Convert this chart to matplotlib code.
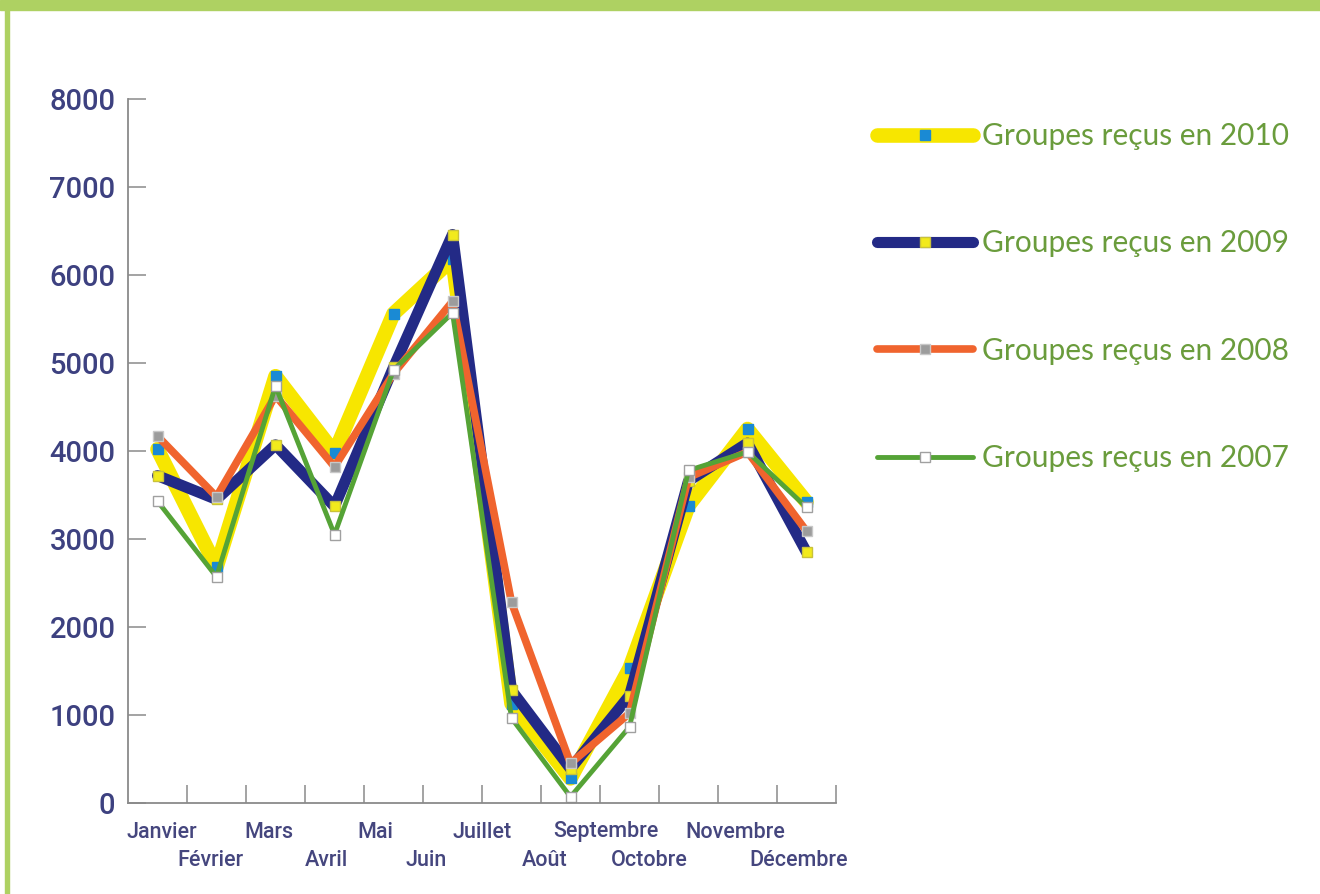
import matplotlib
matplotlib.use("Agg")
import matplotlib.pyplot as plt
from matplotlib.patches import Rectangle

months = ["Janvier", "Février", "Mars", "Avril", "Mai", "Juin", "Juillet",
          "Août", "Septembre", "Octobre", "Novembre", "Décembre"]
v2010 = [4020, 2680, 4850, 3980, 5560, 6180, 1130, 280, 1530, 3380, 4250, 3420]
v2009 = [3720, 3450, 4070, 3370, 4950, 6460, 1280, 390, 1220, 3660, 4090, 2850]
v2008 = [4170, 3480, 4630, 3820, 4880, 5700, 2280, 450, 1020, 3700, 3990, 3090]
v2007 = [3430, 2570, 4740, 3050, 4920, 5570, 965, 70, 865, 3780, 3990, 3360]
labels = ["Groupes reçus en 2010", "Groupes reçus en 2009",
          "Groupes reçus en 2008", "Groupes reçus en 2007"]
yticks = [0, 1000, 2000, 3000, 4000, 5000, 6000, 7000, 8000]

# label horizontal offsets (px) relative to category centre
label_off = [4.5, -6.5, -6.5, -8.5, -18.5, -26.5, -29.5, -25.5, -23.5, -39.5, -12.5, -7.5]

fig = plt.figure(figsize=(13.2, 8.94), dpi=100)
fig.patch.set_facecolor("white")
W, H = 1320, 894
ax = fig.add_axes([128 / W, (H - 803) / H, (836 - 128) / W, (803 - 99) / H])

x = list(range(len(months)))
styles = [
    (v2010, "#f7e600", 10.5, "#1a8ad4", "#1a8ad4"),
    (v2009, "#232a86", 8.0, "#f2ea1c", "#c9c23a"),
    (v2008, "#f0642e", 5.5, "#9c9c9c", "#c8c8c8"),
    (v2007, "#55a336", 3.5, "#ffffff", "#a0a0a0"),
]
handles = []
for (vals, col, lw, mfc, mec), lab in zip(styles, labels):
    ln, = ax.plot(x, vals, color=col, lw=lw, marker="s", ms=6.5, mfc=mfc,
                  mec=mec, mew=1.0, solid_joinstyle="round",
                  solid_capstyle="round", label=lab)
    handles.append(ln)

ax.set_xlim(-0.5, len(months) - 0.5)
ax.set_ylim(0, 8000)
ax.set_yticks(yticks)
ax.set_xticks([i + 0.5 for i in range(len(months))])
ax.set_xticklabels([])
for s in ["top", "right"]:
    ax.spines[s].set_visible(False)
for s in ["left", "bottom"]:
    ax.spines[s].set_color("#8a8a8a")
    ax.spines[s].set_linewidth(1.3)
ax.tick_params(axis="both", direction="in", length=13, width=1.1, color="#8a8a8a")
ax.tick_params(axis="y", pad=9, labelsize=21, labelcolor="#3d4180")
for t in ax.get_yticklabels():
    t.set_family("Roboto")
    t.set_weight("medium")

tick_col = "#45467e"
for i, m in enumerate(months):
    xi = i + label_off[i] / 59.0
    yoff = -29 if i % 2 == 0 else -57
    ax.annotate(m, xy=(xi, 0), xycoords="data", xytext=(0, yoff),
                textcoords="offset pixels", ha="center", va="center",
                fontsize=15.5, color=tick_col, family="Roboto", weight="medium",
                annotation_clip=False)

leg = fig.legend(handles=handles, loc="upper left",
                 bbox_to_anchor=(877 / W, 1 - 122 / H), frameon=False,
                 fontsize=21.5, labelspacing=2.66, handlelength=3.2,
                 handletextpad=0.3, numpoints=1, borderaxespad=0, borderpad=0)
for t in leg.get_texts():
    t.set_color("#6a9c3c")
    t.set_family("Lato")

# green frame
fig.patches.append(Rectangle((0, 1 - 10 / H), 1, 10 / H, transform=fig.transFigure,
                             color="#aed162", zorder=10))
fig.patches.append(Rectangle((5 / W, 0), 4 / W, 1, transform=fig.transFigure,
                             color="#aed162", zorder=10))

fig.savefig("out.png", dpi=100, facecolor="white")
